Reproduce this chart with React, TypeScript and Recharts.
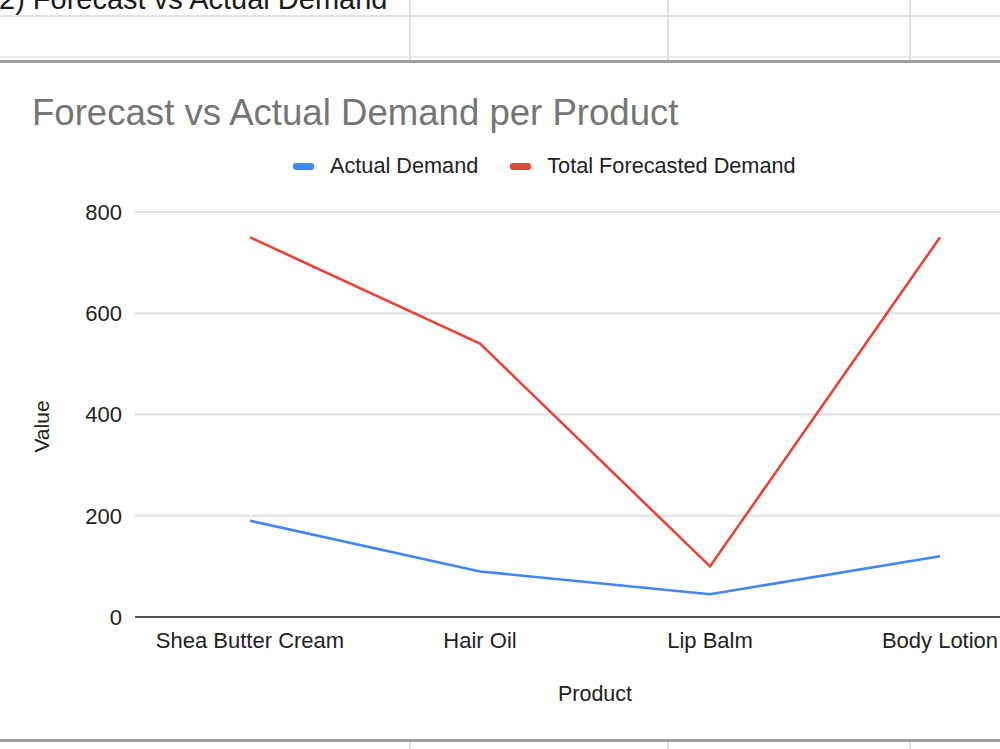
import { LineChart, Line, XAxis, YAxis, CartesianGrid, Legend, Label } from 'recharts';

const products = ['Shea Butter Cream', 'Hair Oil', 'Lip Balm', 'Body Lotion'];
const actualDemand = [190, 90, 45, 120];
const forecastDemand = [750, 540, 100, 750];
const valueTicks = [0, 200, 400, 600, 800];

const data = products.map((name, i) => ({
    name,
    actual: actualDemand[i],
    forecast: forecastDemand[i]
}));

const FONT = '"Liberation Sans", Arial, sans-serif';
const BLUE = '#4285F4';
const RED = '#EA4335';

const legendItems = [
    { label: 'Actual Demand', color: BLUE },
    { label: 'Total Forecasted Demand', color: RED }
];

const SheetLegend = () => (
    <div style={{ display: 'flex', alignItems: 'center', fontFamily: FONT, fontSize: 21.7, color: '#222', lineHeight: '24px', whiteSpace: 'nowrap' }}>
        {legendItems.map((item) => (
            <div key={item.label} style={{ display: 'flex', alignItems: 'center', marginRight: 32 }}>
                <span style={{ width: 21, height: 7, borderRadius: 3, background: item.color, marginRight: 16 }} />
                <span>{item.label}</span>
            </div>
        ))}
    </div>
);

// spreadsheet cell borders around the embedded chart
const vLine = (x: number, top: number, height: number) => (
    <div style={{ position: 'absolute', left: x, top, width: 2, height, background: '#e2e2e2' }} />
);

const App = () => (
    <div style={{ position: 'fixed', left: 0, top: 0, width: 1000, height: 749, overflow: 'hidden', background: '#fff' }}>
        <div style={{ position: 'absolute', left: -1, top: -16, fontFamily: FONT, fontSize: 29, lineHeight: '31px', color: '#1a1a1a', whiteSpace: 'nowrap' }}>
            2) Forecast vs Actual Demand
        </div>
        <div style={{ position: 'absolute', left: 0, top: 15, width: 1000, height: 2, background: '#e2e2e2' }} />
        <div style={{ position: 'absolute', left: 0, top: 56, width: 1000, height: 2, background: '#ececec' }} />
        {vLine(409, 0, 60)}
        {vLine(667, 0, 60)}
        {vLine(909, 0, 60)}
        <div style={{ position: 'absolute', left: 0, top: 60, width: 1000, height: 3, background: '#9e9e9e' }} />
        <div style={{ position: 'absolute', left: 0, top: 739, width: 1000, height: 3, background: '#9e9e9e' }} />
        {vLine(409, 742, 10)}
        {vLine(667, 742, 10)}
        {vLine(909, 742, 10)}

        <div style={{ position: 'absolute', left: 32, top: 95, fontFamily: FONT, fontSize: 36.6, lineHeight: '36px', color: '#757575', whiteSpace: 'nowrap' }}>
            Forecast vs Actual Demand per Product
        </div>

        <div style={{ position: 'absolute', left: 0, top: 63 }}>
            <LineChart width={1090} height={676} data={data} margin={{ top: 149, right: 35, left: 0, bottom: 0 }}>
                <CartesianGrid vertical={false} stroke="#e0e0e0" strokeWidth={2} />
                <XAxis
                    dataKey="name"
                    padding={{ left: 115, right: 115 }}
                    height={122}
                    tickSize={0}
                    tickMargin={15}
                    axisLine={{ stroke: '#555', strokeWidth: 2 }}
                    tick={{ fill: '#222', fontSize: 22, fontFamily: FONT }}
                    interval={0}
                >
                    <Label
                        content={({ viewBox }: any) => (
                            <text x={viewBox.x + viewBox.width / 2} y={viewBox.y + 84} textAnchor="middle" fill="#222" fontSize={21.5} fontFamily={FONT}>
                                Product
                            </text>
                        )}
                    />
                </XAxis>
                <YAxis
                    width={135}
                    domain={[0, 800]}
                    ticks={valueTicks}
                    axisLine={false}
                    tickLine={false}
                    tickSize={0}
                    tickMargin={13}
                    tick={{ fill: '#222', fontSize: 22, fontFamily: FONT }}
                >
                    <Label
                        content={({ viewBox }: any) => {
                            const cy = viewBox.y + viewBox.height / 2 + 12;
                            return (
                                <text x={49} y={cy} transform={`rotate(-90, 49, ${cy})`} textAnchor="middle" fill="#222" fontSize={21} fontFamily={FONT}>
                                    Value
                                </text>
                            );
                        }}
                    />
                </YAxis>
                <Legend
                    layout="horizontal"
                    verticalAlign="middle"
                    align="center"
                    content={() => <SheetLegend />}
                    wrapperStyle={{ top: 91, left: 293, width: 'auto' }}
                />
                <Line type="linear" dataKey="actual" name="Actual Demand" stroke={BLUE} strokeWidth={2.6} dot={false} isAnimationActive={false} />
                <Line type="linear" dataKey="forecast" name="Total Forecasted Demand" stroke={RED} strokeWidth={2.6} dot={false} isAnimationActive={false} />
            </LineChart>
        </div>
    </div>
);

export default App;
